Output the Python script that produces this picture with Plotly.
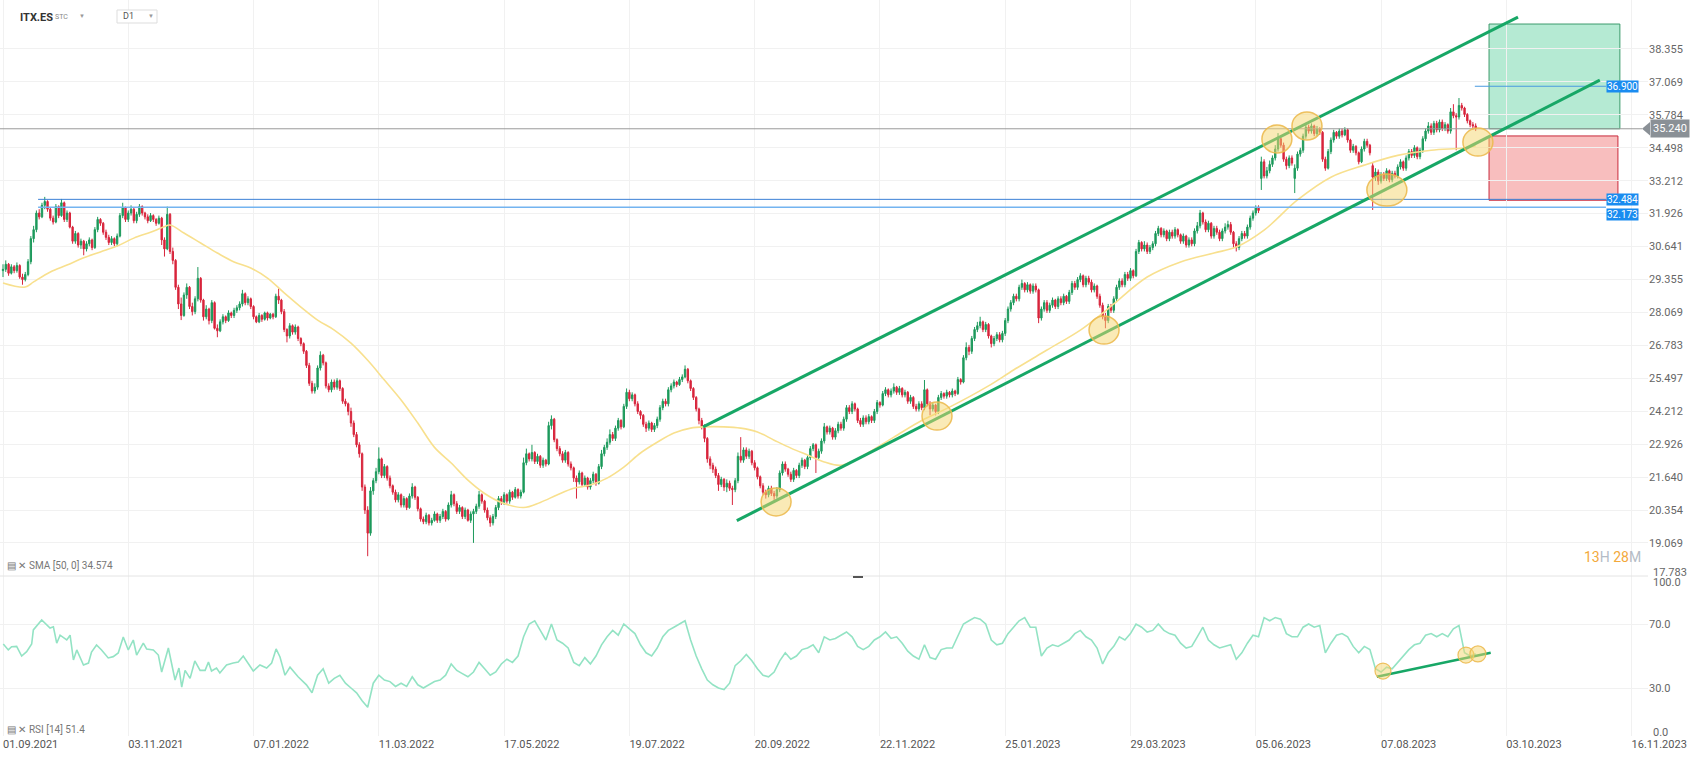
import plotly.graph_objects as go

# ---------------- data ----------------
tick_idx = [0, 45, 90, 135, 180, 225, 270, 315, 360, 405, 450, 495, 540, 585]
tick_text = ["01.09.2021", "03.11.2021", "07.01.2022", "11.03.2022", "17.05.2022", "19.07.2022",
             "20.09.2022", "22.11.2022", "25.01.2023", "29.03.2023", "05.06.2023", "07.08.2023",
             "03.10.2023", "16.11.2023"]
price_ticks = [19.069, 20.354, 21.640, 22.926, 24.212, 25.497, 26.783, 28.069, 29.355,
               30.641, 31.926, 33.212, 34.498, 35.784, 37.069, 38.355]

close = [
 29.75,29.95,29.60,29.85,29.70,29.90,29.45,29.35,29.55,30.05,
 30.95,31.30,31.95,31.80,32.25,32.40,32.10,31.75,31.60,32.20,
 31.85,32.35,31.70,31.95,31.40,30.85,31.15,30.70,30.85,30.55,
 30.75,30.90,30.60,31.30,31.70,31.55,31.20,31.00,30.80,30.95,
 30.75,31.05,31.85,32.15,31.70,31.95,32.10,31.65,31.90,32.20,
 31.95,31.80,31.65,31.85,31.70,31.55,31.75,30.90,30.55,31.90,
 30.45,30.10,29.05,28.40,27.95,28.75,29.05,28.30,28.10,28.60,
 29.40,28.55,27.90,28.20,27.75,28.45,27.45,27.35,27.70,27.90,
 27.75,28.05,27.95,28.15,28.25,28.40,28.80,28.45,28.60,28.30,
 27.90,27.70,27.95,27.80,28.05,27.85,28.00,27.90,28.70,28.55,
 28.10,27.40,27.15,27.55,27.30,27.50,27.05,26.85,26.55,26.00,
 25.30,25.00,25.15,25.90,26.40,26.10,25.20,25.05,25.35,25.15,
 25.40,25.10,24.60,24.50,24.20,23.75,23.30,22.90,22.55,21.25,
 20.35,19.45,21.10,21.50,21.85,22.35,21.70,22.05,21.60,21.30,
 21.05,20.75,20.95,20.55,20.80,20.45,20.90,21.25,20.85,20.40,
 20.00,19.90,20.15,19.85,19.95,20.20,19.95,20.10,20.30,20.00,
 20.55,20.95,20.60,20.30,20.45,20.10,20.35,19.95,20.20,20.30,
 20.50,20.95,20.70,20.35,20.05,19.85,20.10,20.45,20.80,20.65,
 20.95,20.70,21.05,20.85,21.15,20.90,21.05,22.20,22.55,22.35,
 22.60,22.25,22.45,22.10,22.30,22.15,23.65,23.90,23.10,22.75,
 22.55,22.30,22.60,22.15,22.00,21.60,21.45,21.80,21.35,21.60,
 21.25,21.50,21.75,21.40,22.05,22.55,22.80,23.00,23.30,23.15,
 23.55,23.85,23.60,24.40,24.95,24.70,24.85,24.50,24.20,24.05,
 23.70,23.55,23.75,23.50,23.65,23.90,24.35,24.60,24.50,25.05,
 25.20,25.35,25.25,25.45,25.55,25.85,25.40,25.10,24.75,24.30,
 23.85,23.60,23.15,22.35,22.10,21.95,21.70,21.35,21.55,21.25,
 21.40,21.20,21.15,21.50,22.45,22.30,22.70,22.45,22.65,22.20,
 22.00,21.65,21.30,21.05,20.95,21.20,21.00,20.90,21.15,21.80,
 22.15,21.95,21.75,21.55,21.90,21.70,22.10,22.30,22.05,22.40,
 22.75,22.90,22.40,22.65,23.05,23.60,23.40,23.55,23.20,23.45,
 23.70,23.55,23.90,24.35,24.20,24.50,24.30,23.85,23.70,23.95,
 23.80,24.00,23.85,24.20,24.55,24.45,24.90,25.05,24.85,25.00,
 25.15,24.95,25.10,24.85,24.95,24.60,24.75,24.40,24.30,24.50,
 24.35,25.05,24.50,24.30,24.45,24.20,24.75,24.90,24.80,24.95,
 24.85,25.00,24.90,25.45,25.35,26.30,26.70,26.55,27.05,27.40,
 27.55,27.70,27.40,27.60,27.15,26.85,27.05,27.20,27.00,27.25,
 27.75,28.20,28.45,28.70,28.60,29.05,29.20,28.95,29.15,28.90,
 29.10,28.95,27.85,28.20,28.45,28.15,28.35,28.55,28.30,28.60,
 28.45,28.70,28.50,28.85,29.20,29.05,29.35,29.50,29.15,29.40,
 29.25,28.95,29.10,28.70,28.35,27.90,27.75,28.30,28.15,28.60,
 29.05,29.30,29.15,29.55,29.40,29.70,29.50,30.45,30.80,30.55,
 30.70,30.45,30.60,30.75,31.15,31.35,31.10,31.25,30.95,31.20,
 31.05,31.30,31.10,30.85,31.05,30.70,30.90,30.75,31.25,31.45,
 31.95,31.60,31.30,31.55,31.05,31.35,31.20,30.95,31.25,31.40,
 31.50,31.20,30.75,30.60,30.95,31.15,31.05,31.40,31.75,31.95,
 32.15,32.05,33.95,33.40,33.60,33.85,34.10,34.45,34.85,34.60,
 34.05,33.80,34.10,33.90,33.70,34.25,34.40,34.95,35.30,35.15,
 35.35,35.05,35.25,35.10,34.05,33.70,34.35,34.80,35.10,34.95,
 35.15,35.00,35.20,34.80,34.40,34.55,34.30,33.95,34.45,34.75,
 34.60,34.30,33.35,33.55,33.20,33.45,33.30,33.60,33.25,33.50,
 33.40,33.75,33.95,33.70,34.10,34.35,34.20,34.50,34.15,34.40,
 34.85,35.15,35.35,35.10,35.45,35.20,35.50,35.25,35.40,35.15,
 35.90,35.75,35.70,36.15,36.05,35.80,35.55,35.40,35.35,35.24]

open_ = [
 29.70,29.75,29.95,29.60,29.85,29.70,29.90,29.45,29.35,29.55,
 30.05,30.95,31.30,31.95,31.80,32.25,32.40,32.10,31.75,31.60,
 32.20,31.85,32.35,31.70,31.95,31.40,30.85,31.15,30.70,30.85,
 30.55,30.75,30.90,30.60,31.30,31.70,31.55,31.20,31.00,30.80,
 30.95,30.75,31.05,31.85,32.15,31.70,31.95,32.10,31.65,31.90,
 32.20,31.95,31.80,31.65,31.85,31.70,31.55,31.75,30.90,30.55,
 31.90,30.45,30.10,29.05,28.40,27.95,28.75,29.05,28.30,28.10,
 28.60,29.40,28.55,27.90,28.20,27.75,28.45,27.45,27.35,27.70,
 27.90,27.75,28.05,27.95,28.15,28.25,28.40,28.80,28.45,28.60,
 28.30,27.90,27.70,27.95,27.80,28.05,27.85,28.00,27.90,28.70,
 28.55,28.10,27.40,27.15,27.55,27.30,27.50,27.05,26.85,26.55,
 26.00,25.30,25.00,25.15,25.90,26.40,26.10,25.20,25.05,25.35,
 25.15,25.40,25.10,24.60,24.50,24.20,23.75,23.30,22.90,22.55,
 21.25,20.35,19.45,21.10,21.50,21.85,22.35,21.70,22.05,21.60,
 21.30,21.05,20.75,20.95,20.55,20.80,20.45,20.90,21.25,20.85,
 20.40,20.00,19.90,20.15,19.85,19.95,20.20,19.95,20.10,20.30,
 20.00,20.55,20.95,20.60,20.30,20.45,20.10,20.35,19.95,20.20,
 20.30,20.50,20.95,20.70,20.35,20.05,19.85,20.10,20.45,20.80,
 20.65,20.95,20.70,21.05,20.85,21.15,20.90,21.05,22.20,22.55,
 22.35,22.60,22.25,22.45,22.10,22.30,22.15,23.65,23.90,23.10,
 22.75,22.55,22.30,22.60,22.15,22.00,21.60,21.45,21.80,21.35,
 21.60,21.25,21.50,21.75,21.40,22.05,22.55,22.80,23.00,23.30,
 23.15,23.55,23.85,23.60,24.40,24.95,24.70,24.85,24.50,24.20,
 24.05,23.70,23.55,23.75,23.50,23.65,23.90,24.35,24.60,24.50,
 25.05,25.20,25.35,25.25,25.45,25.55,25.85,25.40,25.10,24.75,
 24.30,23.85,23.60,23.15,22.35,22.10,21.95,21.70,21.35,21.55,
 21.25,21.40,21.20,21.15,21.50,22.45,22.30,22.70,22.45,22.65,
 22.20,22.00,21.65,21.30,21.05,20.95,21.20,21.00,20.90,21.15,
 21.80,22.15,21.95,21.75,21.55,21.90,21.70,22.10,22.30,22.05,
 22.40,22.75,22.90,22.40,22.65,23.05,23.60,23.40,23.55,23.20,
 23.45,23.70,23.55,23.90,24.35,24.20,24.50,24.30,23.85,23.70,
 23.95,23.80,24.00,23.85,24.20,24.55,24.45,24.90,25.05,24.85,
 25.00,25.15,24.95,25.10,24.85,24.95,24.60,24.75,24.40,24.30,
 24.50,24.35,25.05,24.50,24.30,24.45,24.20,24.75,24.90,24.80,
 24.95,24.85,25.00,24.90,25.45,25.35,26.30,26.70,26.55,27.05,
 27.40,27.55,27.70,27.40,27.60,27.15,26.85,27.05,27.20,27.00,
 27.25,27.75,28.20,28.45,28.70,28.60,29.05,29.20,28.95,29.15,
 28.90,29.10,28.95,27.85,28.20,28.45,28.15,28.35,28.55,28.30,
 28.60,28.45,28.70,28.50,28.85,29.20,29.05,29.35,29.50,29.15,
 29.40,29.25,28.95,29.10,28.70,28.35,27.90,27.75,28.30,28.15,
 28.60,29.05,29.30,29.15,29.55,29.40,29.70,29.50,30.45,30.80,
 30.55,30.70,30.45,30.60,30.75,31.15,31.35,31.10,31.25,30.95,
 31.20,31.05,31.30,31.10,30.85,31.05,30.70,30.90,30.75,31.25,
 31.45,31.95,31.60,31.30,31.55,31.05,31.35,31.20,30.95,31.25,
 31.40,31.50,31.20,30.75,30.60,30.95,31.15,31.05,31.40,31.75,
 31.95,32.15,33.30,33.95,33.40,33.60,33.85,34.10,34.45,34.85,
 34.60,34.05,33.80,34.10,33.30,33.70,34.25,34.40,34.95,35.30,
 35.15,35.35,35.05,35.25,35.10,34.05,33.70,34.35,34.80,35.10,
 34.95,35.15,35.00,35.20,34.80,34.40,34.55,34.30,33.95,34.45,
 34.75,34.60,33.80,33.35,33.55,33.20,33.45,33.30,33.60,33.25,
 33.50,33.40,33.75,33.95,33.70,34.10,34.35,34.20,34.50,34.15,
 34.40,34.85,35.15,35.35,35.10,35.45,35.20,35.50,35.25,35.40,
 35.15,35.90,35.75,35.70,36.15,36.05,35.80,35.55,35.40,35.35]

high = [
 29.95,30.10,30.00,29.95,29.92,30.02,29.95,29.58,29.65,30.15,
 31.05,31.45,32.05,32.10,32.35,32.58,32.45,32.15,31.85,32.30,
 32.25,32.50,32.40,32.05,32.00,31.45,31.25,31.20,30.95,30.90,
 30.85,31.00,30.95,31.40,31.80,31.75,31.60,31.30,31.10,31.05,
 31.00,31.15,31.95,32.35,32.20,32.05,32.25,32.15,32.00,32.30,
 32.25,32.00,31.90,31.95,31.90,31.75,31.85,31.80,31.00,32.20,
 31.95,30.60,30.15,29.15,28.65,28.85,29.20,29.10,28.45,28.70,
 29.84,29.45,28.60,28.35,28.25,28.55,28.50,27.60,27.80,28.00,
 27.95,28.15,28.10,28.25,28.35,28.50,28.95,28.85,28.70,28.65,
 28.35,27.95,28.05,28.00,28.10,28.10,28.05,28.05,28.80,29.00,
 28.60,28.20,27.45,27.65,27.60,27.60,27.55,27.10,26.90,26.60,
 26.10,25.40,25.30,26.00,26.55,26.45,26.15,25.30,25.45,25.45,
 25.50,25.45,25.15,24.70,24.55,24.35,23.85,23.40,23.00,22.60,
 21.35,20.50,21.25,21.60,22.00,22.80,22.40,22.15,22.10,21.70,
 21.35,21.15,21.05,21.00,20.90,20.85,21.00,21.40,21.30,20.90,
 20.45,20.10,20.25,20.20,20.05,20.30,20.25,20.20,20.40,20.35,
 20.65,21.10,21.00,20.70,20.55,20.50,20.45,20.40,20.30,20.40,
 20.60,21.10,21.00,20.75,20.45,20.15,20.20,20.55,20.90,20.90,
 21.05,21.00,21.15,21.10,21.25,21.20,21.15,22.40,22.75,22.60,
 22.90,22.65,22.55,22.50,22.40,22.35,23.80,24.05,23.95,23.15,
 22.85,22.65,22.70,22.65,22.25,22.05,21.70,21.90,21.85,21.70,
 21.65,21.60,21.85,21.80,22.15,22.70,22.90,23.15,23.50,23.40,
 23.65,23.95,23.90,24.50,25.10,25.05,24.95,24.90,24.60,24.25,
 24.10,23.80,23.85,23.80,23.75,24.00,24.45,24.70,24.70,25.15,
 25.30,25.45,25.40,25.55,25.65,26.00,25.90,25.45,25.15,24.80,
 24.35,23.95,23.70,23.20,22.45,22.20,22.05,21.80,21.65,21.60,
 21.55,21.50,21.30,21.60,22.60,23.20,22.80,22.80,22.75,22.70,
 22.30,22.05,21.70,21.40,21.15,21.30,21.30,21.10,21.25,21.90,
 22.25,22.25,22.00,21.85,22.00,21.95,22.20,22.40,22.35,22.50,
 22.85,22.97,22.95,22.75,23.15,23.75,23.65,23.65,23.60,23.55,
 23.80,23.80,24.00,24.45,24.45,24.60,24.55,24.35,23.95,24.05,
 24.05,24.10,24.05,24.30,24.65,24.60,25.00,25.15,25.10,25.10,
 25.30,25.20,25.20,25.15,25.05,25.00,24.85,24.80,24.50,24.60,
 24.60,25.43,25.10,24.60,24.55,24.50,24.85,25.00,24.95,25.05,
 25.00,25.10,25.05,25.55,25.50,26.40,26.90,26.80,27.15,27.50,
 27.70,27.90,27.75,27.70,27.65,27.20,27.15,27.30,27.30,27.35,
 27.85,28.30,28.55,28.80,28.80,29.15,29.35,29.25,29.25,29.20,
 29.20,29.20,29.00,28.30,28.55,28.55,28.45,28.65,28.60,28.70,
 28.70,28.80,28.75,28.95,29.30,29.30,29.45,29.60,29.55,29.50,
 29.50,29.35,29.20,29.15,28.80,28.45,28.05,28.40,28.40,28.70,
 29.15,29.40,29.40,29.65,29.65,29.80,29.75,30.55,30.90,30.85,
 30.85,30.80,30.70,30.85,31.25,31.45,31.40,31.35,31.30,31.30,
 31.30,31.40,31.35,31.15,31.15,31.10,31.00,31.00,31.35,31.60,
 32.07,32.00,31.70,31.65,31.60,31.45,31.45,31.30,31.35,31.55,
 31.65,31.60,31.25,30.85,31.05,31.25,31.25,31.50,31.85,32.05,
 32.25,32.25,34.15,34.05,33.75,34.00,34.20,34.60,35.07,34.95,
 34.70,34.15,34.20,34.20,33.85,34.35,34.50,35.05,35.47,35.40,
 35.45,35.40,35.35,35.30,35.15,34.15,34.45,34.90,35.20,35.15,
 35.25,35.25,35.30,35.25,34.85,34.65,34.60,34.35,34.55,34.85,
 34.85,34.65,33.90,33.70,33.65,33.55,33.55,33.70,33.65,33.60,
 33.60,33.85,34.05,34.00,34.20,34.45,34.45,34.60,34.55,34.50,
 34.95,35.25,35.50,35.45,35.55,35.55,35.60,35.60,35.50,35.45,
 36.05,36.20,35.85,36.44,36.25,36.10,35.85,35.60,35.50,35.45]

low = [
 29.45,29.65,29.50,29.55,29.60,29.62,29.38,29.15,29.28,29.48,
 29.95,30.80,31.20,31.70,31.75,32.10,32.00,31.65,31.50,31.55,
 31.75,31.80,31.60,31.60,31.35,30.75,30.75,30.60,30.55,30.30,
 30.45,30.65,30.50,30.55,31.20,31.45,31.10,30.90,30.70,30.70,
 30.65,30.65,31.00,31.75,31.60,31.60,31.85,31.55,31.55,31.80,
 31.85,31.70,31.55,31.60,31.60,31.45,31.50,30.70,30.25,30.50,
 30.35,29.95,28.95,28.20,27.77,27.90,28.60,28.20,27.95,28.00,
 28.50,28.45,27.75,27.80,27.60,27.65,27.40,27.10,27.30,27.60,
 27.65,27.70,27.85,27.85,28.05,28.15,28.30,28.35,28.35,28.20,
 27.80,27.65,27.65,27.70,27.75,27.75,27.80,27.80,27.85,28.40,
 28.00,27.30,26.90,27.05,27.20,27.20,26.95,26.75,26.45,25.90,
 25.20,24.90,24.90,25.05,25.80,26.00,25.10,24.95,24.95,25.05,
 25.05,25.00,24.50,24.40,24.05,23.60,23.20,22.80,22.40,21.10,
 20.20,18.55,19.35,20.95,21.40,21.75,21.60,21.60,21.50,21.20,
 20.95,20.65,20.65,20.45,20.45,20.35,20.40,20.80,20.75,20.30,
 19.90,19.80,19.80,19.75,19.75,19.90,19.85,19.85,20.00,19.90,
 19.95,20.45,20.50,20.20,20.20,20.00,20.00,19.90,19.85,19.07,
 20.20,20.40,20.60,20.25,19.95,19.70,19.75,20.00,20.35,20.55,
 20.55,20.60,20.60,20.75,20.80,20.80,20.80,21.00,22.10,22.25,
 22.25,22.15,22.15,22.00,22.00,22.05,22.10,23.50,23.00,22.65,
 22.45,22.20,22.20,22.05,21.90,21.45,20.80,21.35,21.25,21.25,
 21.15,21.15,21.40,21.30,21.35,21.95,22.45,22.70,22.90,23.05,
 23.05,23.45,23.50,23.55,24.30,24.60,24.60,24.40,24.10,23.90,
 23.60,23.40,23.45,23.40,23.40,23.55,23.80,24.25,24.40,24.40,
 24.95,25.10,25.15,25.20,25.35,25.50,25.30,25.00,24.65,24.20,
 23.70,23.50,23.00,22.20,21.95,21.80,21.60,21.10,21.25,21.10,
 21.05,21.10,20.55,21.05,21.40,22.20,22.20,22.35,22.35,22.10,
 21.90,21.55,21.20,20.95,20.80,20.85,20.90,20.75,20.80,21.05,
 21.70,21.85,21.65,21.45,21.45,21.60,21.60,22.00,21.95,21.95,
 22.30,22.65,21.80,22.30,22.55,22.95,23.30,23.30,23.10,23.10,
 23.35,23.45,23.45,23.80,24.10,24.10,24.20,23.75,23.60,23.60,
 23.70,23.70,23.75,23.75,24.10,24.35,24.40,24.80,24.75,24.75,
 24.90,24.85,24.85,24.75,24.75,24.50,24.50,24.30,24.20,24.20,
 24.25,24.25,24.40,24.05,24.20,24.05,24.10,24.65,24.70,24.70,
 24.75,24.75,24.80,24.85,25.25,25.30,26.20,26.40,26.45,26.95,
 27.30,27.45,27.30,27.30,27.05,26.70,26.75,26.95,26.90,26.90,
 27.15,27.65,28.10,28.35,28.50,28.50,28.95,28.85,28.85,28.80,
 28.80,28.85,27.65,27.75,28.10,28.05,28.05,28.25,28.20,28.20,
 28.35,28.35,28.40,28.40,28.75,28.95,28.95,29.25,29.05,29.05,
 29.15,28.85,28.85,28.60,28.25,27.80,27.45,27.65,28.05,28.05,
 28.50,28.95,29.05,29.05,29.30,29.30,29.40,29.45,30.35,30.45,
 30.45,30.35,30.35,30.50,30.65,31.05,31.00,31.00,30.85,30.85,
 30.95,30.95,31.00,30.75,30.75,30.60,30.60,30.65,30.65,31.15,
 31.35,31.50,31.20,31.20,30.95,30.95,31.10,30.85,30.85,31.15,
 31.30,31.10,30.60,30.45,30.50,30.85,30.95,30.95,31.30,31.65,
 31.85,31.95,32.85,33.30,33.30,33.50,33.75,34.00,34.35,34.50,
 33.95,33.65,33.70,33.80,32.73,33.60,34.15,34.30,34.85,35.05,
 35.05,34.95,34.95,35.00,33.95,33.60,33.65,34.25,34.70,34.85,
 34.85,34.90,34.95,34.70,34.30,34.30,34.20,33.85,33.90,34.35,
 34.50,34.20,32.07,33.20,33.05,33.10,33.20,33.20,33.15,33.15,
 33.30,33.30,33.65,33.60,33.60,34.00,34.10,34.10,34.05,34.05,
 34.30,34.75,35.05,35.00,35.00,35.10,35.10,35.15,35.15,35.05,
 35.05,35.65,34.40,35.60,35.95,35.70,35.45,35.30,35.20,35.15]

bar_index = list(range(len(close)))

# SMA(50) line, read at these bar positions
sma_x = [0, 8, 11, 17, 23, 29, 35, 41, 47, 53, 57.6, 60, 65, 71, 77, 83, 89, 95, 101, 107,
         113, 119, 125, 131, 137, 143, 149, 155, 161, 167, 173, 179, 187, 193, 199, 205, 211,
         217, 223, 229, 235, 241, 247, 252, 259, 265, 271, 277, 283, 289, 295, 301, 308, 320,
         330, 340, 354, 363, 375, 387, 395, 399, 411, 423, 435, 443, 453, 465, 477, 489, 501,
         513, 525, 529]
sma_v = [29.22, 29.06, 29.26, 29.65, 29.92, 30.20, 30.43, 30.66, 30.97, 31.20, 31.40, 31.48,
         31.17, 30.78, 30.39, 30.04, 29.80, 29.41, 28.83, 28.28, 27.77, 27.38, 26.87, 26.20,
         25.43, 24.65, 23.75, 22.80, 22.19, 21.52, 21.00, 20.65, 20.45, 20.65, 20.94, 21.20,
         21.33, 21.60, 22.03, 22.58, 23.00, 23.36, 23.55, 23.60, 23.60, 23.55, 23.40, 23.08,
         22.77, 22.50, 22.23, 22.10, 22.42, 23.20, 23.85, 24.37, 25.20, 25.82, 26.60, 27.38,
         28.04, 28.40, 29.45, 30.04, 30.39, 30.62, 31.28, 32.46, 33.35, 33.82, 34.20, 34.40,
         34.49, 34.574]

# RSI(14), read at these bar positions
rsi_x = [0.1, 1.9, 3.1, 4.9, 6.7, 8.5, 10.3, 10.9, 13.9, 16.9, 18.1, 19.3, 20.5, 22.9, 24.1,
         25.3, 26.5, 28.9, 30.7, 31.8, 33.6, 35.4, 37.8, 39.6, 41.4, 43.2, 45, 46.8, 48, 50.4,
         51.6, 54, 55.8, 57, 59.4, 60.6, 61.8, 63.2, 64.2, 65.4, 67.2, 68.9, 70.8, 72.6, 73.8,
         74.9, 76.7, 77.9, 80.3, 82.7, 84.5, 86.3, 89.9, 92.3, 94.7, 96.5, 98.1, 99.5, 101.3,
         103.1, 106] + list(range(109, 530, 2))
rsi_v = [57.5, 53.8, 55.8, 56, 50, 52.7, 57.5, 66.3, 72.5, 67.5, 68.3, 58, 63, 60, 63,
         47.5, 53.8, 44.4, 45.6, 52.5, 56.9, 53.8, 48.8, 49.6, 51.9, 61.9, 53.8, 60, 50.6, 58,
         54.4, 53.8, 50.6, 40, 55, 45.6, 35, 42.5, 30.6, 41, 36, 46.9, 41, 41, 46.3,
         40.6, 42.5, 39.4, 44.4, 45.6, 46.3, 50, 40.6, 44.4, 42.5, 45.6, 54.4, 49.4, 38,
         43, 37,
         32, 27, 38, 42, 33, 36, 38, 33, 30, 27, 22, 18, 33, 38, 35, 34, 31, 33, 31, 37,
         32, 30, 32, 34, 35, 38, 45, 41, 39, 37, 40, 46, 42, 38, 40, 45, 48, 46, 50, 62,
         70, 72, 66, 60, 70, 60, 58, 55, 46, 44, 49, 45, 50, 57, 62, 66, 63, 70, 67, 64,
         57, 52, 50, 55, 62, 66, 68, 70, 72, 60, 50, 42, 35, 32, 30, 29, 33, 44, 47, 51,
         47, 42, 38, 37, 40, 47, 52, 48, 50, 54, 55, 57, 52, 62, 60, 61, 63, 65, 62, 56,
         54, 56, 60, 62, 65, 61, 62, 58, 53, 50, 48, 57, 49, 48, 54, 55, 55, 62, 70, 72,
         74, 73, 70, 60, 57, 58, 64, 68, 72, 74, 68, 68, 50, 55, 57, 56, 58, 60, 64, 66,
         62, 60, 55, 45, 52, 56, 62, 60, 64, 70, 68, 65, 66, 70, 66, 64, 63, 58, 55, 56,
         62, 68, 60, 57, 55, 56, 57, 48, 52, 58, 63, 62, 74, 72, 74, 73, 64, 62, 62, 68,
         70, 68, 69, 52, 58, 63, 64, 62, 56, 52, 56, 54, 42, 40, 43, 42, 46, 50, 54, 57,
         58, 63, 64, 62, 64, 62, 67, 69, 52, 50, 51.4]

# drawing objects (bar index, price)
channel_upper = [(251.5, 23.60), (544.2, 39.60)]
channel_lower = [(263.6, 19.94), (573.6, 37.14)]
rsi_trend = [(493.5, 37.0), (534.4, 52.0)]
circles_main = [(277.7, 20.67, 15, 14), (335.5, 24.02, 15, 14), (395.5, 27.38, 15, 14),
                (457.6, 34.84, 15, 14), (468.4, 35.35, 15, 14), (497.1, 32.85, 20, 16),
                (529.8, 34.72, 15, 14)]
circles_rsi = [(495.7, 40.6), (525.5, 50.6), (529.8, 51.3)]
last_price = 35.240
target_price = 36.900
support_1 = 32.484
support_2 = 32.173
box_left, box_right_g, box_right_r = 533.8, 580.8, 580.1
green_box_top = 39.33
red_box_top, red_box_bottom = 34.96, 32.45
sma_label = "SMA [50, 0] 34.574"
rsi_label = "RSI [14] 51.4"

# ---------------- figure ----------------
W, H = 1706, 759
PW, PH = 1648, 736          # plot area (margins r=58, b=23)
def px(x):
    return x / PW
def py(y):
    return 1 - y / PH

GREEN, RED = "#1d9a5c", "#d8253c"
FONT = "Roboto, Arial, sans-serif"

fig = go.Figure()
fig.add_trace(go.Candlestick(
    x=bar_index, open=open_, high=high, low=low, close=close,
    increasing=dict(line=dict(color=GREEN, width=1), fillcolor=GREEN),
    decreasing=dict(line=dict(color=RED, width=1), fillcolor=RED),
    whiskerwidth=0, xaxis="x", yaxis="y", hoverinfo="skip"))
fig.add_trace(go.Scatter(x=sma_x, y=sma_v, mode="lines", line=dict(color="#f8e08e", width=1.6, shape="spline"),
                         xaxis="x", yaxis="y", hoverinfo="skip"))
fig.add_trace(go.Scatter(x=rsi_x, y=rsi_v, mode="lines", line=dict(color="#93e3c4", width=1.6),
                         xaxis="x2", yaxis="y2", hoverinfo="skip"))

xr = [-1.078, 590.9]
split = 160 / PH
fig.update_layout(
    width=W, height=H, margin=dict(l=0, r=58, t=0, b=23),
    paper_bgcolor="white", plot_bgcolor="white", showlegend=False,
    font=dict(family=FONT, size=11, color="#666"),
    xaxis=dict(domain=[0, 1], range=xr, anchor="y", tickvals=tick_idx, showticklabels=False,
               showgrid=True, gridcolor="#f1f1f1", zeroline=False, ticks="",
               rangeslider=dict(visible=False), fixedrange=True),
    xaxis2=dict(domain=[0, 1], range=xr, anchor="y2", tickvals=tick_idx, ticktext=tick_text,
                ticklabelposition="outside right", showgrid=True, gridcolor="#f1f1f1",
                zeroline=False, ticks="", tickfont=dict(size=11, color="#555", family=FONT)),
    yaxis=dict(domain=[split, 1], range=[17.777, 40.268], side="right", tickvals=price_ticks,
               ticktext=[f"{v:.3f}" for v in price_ticks], showgrid=True, gridcolor="#f1f1f1",
               zeroline=False, ticks="", tickfont=dict(size=11, color="#666", family=FONT)),
    yaxis2=dict(domain=[0, split], range=[0, 100], side="right", tickvals=[30, 70],
                ticktext=["30.0", "70.0"], showgrid=True, gridcolor="#f1f1f1", zeroline=False,
                ticks="", tickfont=dict(size=11, color="#666", family=FONT)),
)

shapes = []
# panel separator
shapes.append(dict(type="line", xref="paper", yref="paper", x0=0, x1=1, y0=split, y1=split,
                   line=dict(color="#e4e4e4", width=1)))
shapes.append(dict(type="line", xref="paper", yref="paper", x0=px(853), x1=px(863),
                   y0=py(577), y1=py(577), line=dict(color="#555", width=2)))
# boxes
shapes.append(dict(type="rect", xref="x", yref="y", x0=box_left, x1=box_right_g, y0=last_price,
                   y1=green_box_top, fillcolor="rgba(60,200,140,0.38)",
                   line=dict(color="#3c9a6c", width=1), layer="below"))
shapes.append(dict(type="rect", xref="x", yref="y", x0=box_left, x1=box_right_r, y0=red_box_bottom,
                   y1=red_box_top, fillcolor="rgba(240,110,110,0.45)",
                   line=dict(color="#c8283a", width=1), layer="below"))
# horizontal levels
shapes.append(dict(type="line", xref="paper", yref="y", x0=0, x1=px(1642), y0=last_price, y1=last_price,
                   line=dict(color="#9a9a9a", width=1)))
shapes.append(dict(type="line", xref="x", yref="y", x0=12.6, x1=575.8, y0=support_2, y1=support_2,
                   line=dict(color="#74b4f0", width=1.5)))
shapes.append(dict(type="line", xref="x", yref="y", x0=12.6, x1=575.8, y0=support_1, y1=support_1,
                   line=dict(color="#3a80d6", width=1)))
shapes.append(dict(type="line", xref="x", yref="y", x0=528.7, x1=575.8, y0=target_price, y1=target_price,
                   line=dict(color="#4a9be0", width=1)))
# channel
for seg in (channel_upper, channel_lower):
    shapes.append(dict(type="line", xref="x", yref="y", x0=seg[0][0], y0=seg[0][1], x1=seg[1][0],
                       y1=seg[1][1], line=dict(color="#17a766", width=3)))
shapes.append(dict(type="line", xref="x2", yref="y2", x0=rsi_trend[0][0], y0=rsi_trend[0][1],
                   x1=rsi_trend[1][0], y1=rsi_trend[1][1], line=dict(color="#17a766", width=2.5)))
# circles
for cx, cy, rx, ry in circles_main:
    shapes.append(dict(type="circle", xref="x", yref="y", xsizemode="pixel", ysizemode="pixel",
                       xanchor=cx, yanchor=cy, x0=-rx, x1=rx, y0=-ry, y1=ry,
                       fillcolor="rgba(246,214,110,0.5)", line=dict(color="rgba(236,186,80,0.9)", width=1.5)))
for cx, cy in circles_rsi:
    shapes.append(dict(type="circle", xref="x2", yref="y2", xsizemode="pixel", ysizemode="pixel",
                       xanchor=cx, yanchor=cy, x0=-8, x1=8, y0=-8, y1=8,
                       fillcolor="rgba(246,214,110,0.5)", line=dict(color="rgba(236,186,80,0.9)", width=1.2)))
# header D1 box
shapes.append(dict(type="rect", xref="paper", yref="paper", x0=px(117), x1=px(157), y0=py(23), y1=py(10),
                   line=dict(color="#dddddd", width=1), fillcolor="white"))
# last price arrow
shapes.append(dict(type="path", xref="paper", yref="y",
                   path=f"M {px(1642)} {last_price} L {px(1650)} {last_price+0.26} L {px(1650)} {last_price-0.26} Z",
                   fillcolor="#8a9096", line=dict(width=0)))
fig.update_layout(shapes=shapes)

ann = []
def text(x, y, s, size=11, color="#666", xanchor="left", yanchor="middle", **kw):
    ann.append(dict(x=x, y=y, xref="paper", yref="paper", text=s, showarrow=False, xanchor=xanchor,
                    yanchor=yanchor, font=dict(size=size, color=color, family=FONT), **kw))

text(px(18), py(17), "<b>ITX.ES</b>", size=11, color="#333")
text(px(53), py(17.5), "STC", size=7, color="#888")
text(px(77), py(16), "▼", size=6, color="#999")
text(px(121), py(16.5), "D1", size=9, color="#555")
text(px(146), py(16), "▼", size=6, color="#999")
text(px(1643), py(557),
     "<span style='color:#f3a93b'>13</span><span style='color:#b4bcc6'>H</span> "
     "<span style='color:#f3a93b'>28</span><span style='color:#b4bcc6'>M</span>",
     size=14, xanchor="right")
text(px(5), py(565), "▤ ✕ " + sma_label, size=10, color="#777")
text(px(5), py(729), "▤ ✕ " + rsi_label, size=10, color="#777")
# edge tick labels
text(px(1651), py(572), "17.783", size=11, color="#666")
text(px(1651), py(582), "100.0", size=11, color="#666")
text(px(1651), py(732), "0.0", size=11, color="#666")
# price tags (lower tag nudged below the upper one so both stay readable)
for val, lab, ys in ((support_2, "32.173", -7), (support_1, "32.484", 0), (target_price, "36.900", 0)):
    ann.append(dict(x=575.8, y=val, xref="x", yref="y", text=lab, showarrow=False, xanchor="left",
                    yanchor="middle", bgcolor="#1a8cf0", borderpad=0, yshift=ys,
                    font=dict(size=10, color="white", family=FONT)))
ann.append(dict(x=px(1650), y=last_price, xref="paper", yref="y", text="35.240", showarrow=False,
                xanchor="left", yanchor="middle", bgcolor="#8a9096", borderpad=2,
                font=dict(size=11, color="white", family=FONT)))
fig.update_layout(annotations=ann)

fig.write_html("out.html", config={"displayModeBar": False})
